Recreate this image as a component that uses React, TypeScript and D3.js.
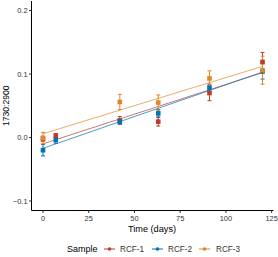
import React from 'react';
import * as d3 from 'd3';

const days = [0, 7, 42, 63, 91, 120];
const samples = ['RCF-1', 'RCF-2', 'RCF-3'];
const colors = ['#BC3C29', '#0072B5', '#E18727'];
// mean ratio per sample (null = not measured)
const rcf1 = [-0.002, 0.003, 0.027, 0.025, 0.07, 0.119];
const rcf2 = [-0.02, -0.004, 0.025, 0.038, 0.078, 0.104];
const rcf3 = [-0.001, null, 0.056, 0.055, 0.093, 0.106];
// standard deviations
const sd1 = [0.004, 0.003, 0.006, 0.007, 0.012, 0.015];
const sd2 = [0.009, 0.005, 0.004, 0.006, 0.006, 0.012];
const sd3 = [0.009, null, 0.012, 0.012, 0.012, 0.022];
const xTicks = [0, 25, 50, 75, 100, 125];
const yTicks = [-0.1, 0.0, 0.1, 0.2];

const W = 278;
const H = 257;
const font = '"Liberation Sans", Arial, sans-serif';

function fit(xs: number[], ys: number[]) {
  const mx = d3.mean(xs)!;
  const my = d3.mean(ys)!;
  let sxy = 0, sxx = 0;
  xs.forEach((x, i) => {
    sxy += (x - mx) * (ys[i] - my);
    sxx += (x - mx) * (x - mx);
  });
  const b = sxy / sxx;
  return { a: my - b * mx, b };
}

export default function App() {
  const x = d3.scaleLinear().domain([-6, 126]).range([32, 273.5]);
  const y = d3.scaleLinear().domain([-0.115, 0.215]).range([210.5, 1]);

  const series = [rcf1, rcf2, rcf3].map((vals, k) => {
    const sds = [sd1, sd2, sd3][k];
    const pts = days
      .map((d, i) => ({ d, v: vals[i], sd: sds[i] }))
      .filter((p) => p.v != null) as { d: number; v: number; sd: number }[];
    const lm = fit(pts.map((p) => p.d), pts.map((p) => p.v));
    return { name: samples[k], color: colors[k], pts, lm };
  });

  const xmin = d3.min(days)!;
  const xmax = d3.max(days)!;
  const axisY = 210.5;
  const axisX = 31.5;

  const legendItems = [
    { lx: 104, tx: 120 },
    { lx: 152, tx: 168 },
    { lx: 199, tx: 216 },
  ];

  return (
    <div style={{ position: 'absolute', left: 0, top: 0 }}>
      <svg width={W} height={H} style={{ display: 'block', background: '#fff' }} fontFamily={font}>
        {series.map((s) => (
          <line
            key={'l' + s.name}
            x1={x(xmin)}
            x2={x(xmax)}
            y1={y(s.lm.a + s.lm.b * xmin)}
            y2={y(s.lm.a + s.lm.b * xmax)}
            stroke={s.color}
            strokeOpacity={0.7}
            strokeWidth={1}
          />
        ))}
        {series.map((s) => (
          <g key={'e' + s.name} stroke={s.color} strokeWidth={1}>
            {s.pts.map((p) => (
              <g key={p.d}>
                <line x1={x(p.d)} x2={x(p.d)} y1={y(p.v - p.sd)} y2={y(p.v + p.sd)} />
                <line x1={x(p.d) - 2} x2={x(p.d) + 2} y1={y(p.v - p.sd)} y2={y(p.v - p.sd)} />
                <line x1={x(p.d) - 2} x2={x(p.d) + 2} y1={y(p.v + p.sd)} y2={y(p.v + p.sd)} />
              </g>
            ))}
          </g>
        ))}
        {series.map((s) => (
          <g key={'p' + s.name} fill={s.color}>
            {s.pts.map((p) => (
              <rect key={p.d} x={x(p.d) - 2.3} y={y(p.v) - 2.3} width={4.6} height={4.6} />
            ))}
          </g>
        ))}

        {/* axes */}
        <line x1={axisX} x2={axisX} y1={1} y2={axisY} stroke="#000" strokeWidth={1} />
        <line x1={axisX} x2={273.5} y1={axisY} y2={axisY} stroke="#000" strokeWidth={1} />
        {yTicks.map((t) => (
          <g key={'yt' + t}>
            <line x1={axisX - 2.5} x2={axisX} y1={y(t)} y2={y(t)} stroke="#333" />
            <text x={axisX - 4} y={y(t)} dy="0.35em" textAnchor="end" fontSize={7.4} fill="#333">
              {d3.format('.1f')(t).replace('-', '\u2212')}
            </text>
          </g>
        ))}
        {xTicks.map((t) => (
          <g key={'xt' + t}>
            <line x1={x(t)} x2={x(t)} y1={axisY} y2={axisY + 2.5} stroke="#333" />
            <text x={x(t)} y={axisY + 10} textAnchor="middle" fontSize={7.4} fill="#333">
              {t}
            </text>
          </g>
        ))}
        <text x={152} y={232} textAnchor="middle" fontSize={9.2} fill="#000">
          Time (days)
        </text>
        <text
          transform={`translate(9,${(1 + axisY) / 2}) rotate(-90)`}
          textAnchor="middle"
          fontSize={8.6}
          fill="#000"
        >
          1730:2900
        </text>

        {/* legend */}
        <text x={67} y={252} fontSize={9} fill="#000">
          Sample
        </text>
        {series.map((s, k) => (
          <g key={'lg' + s.name}>
            <line x1={legendItems[k].lx} x2={legendItems[k].lx + 11} y1={249} y2={249} stroke={s.color} strokeWidth={1} />
            <circle cx={legendItems[k].lx + 5.5} cy={249} r={1.8} fill={s.color} />
            <text x={legendItems[k].tx} y={252} fontSize={8.2} fill="#333">
              {s.name}
            </text>
          </g>
        ))}
      </svg>
    </div>
  );
}
